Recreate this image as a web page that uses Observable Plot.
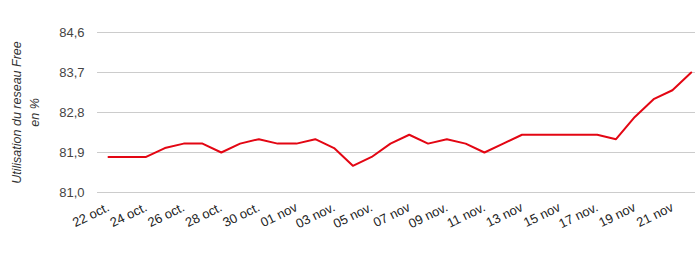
<!DOCTYPE html>
<html>
<head>
<meta charset="utf-8">
<script src="https://cdn.jsdelivr.net/npm/d3@7"></script>
<script src="https://cdn.jsdelivr.net/npm/@observablehq/plot@0.6"></script>
<style>
  html, body { margin: 0; padding: 0; background: #fff; }
  #chart svg { display: block; font-family: "Liberation Sans", Arial, sans-serif; }
</style>
</head>
<body>
<div id="chart"></div>
<script>
const days = ["22/10","23/10","24/10","25/10","26/10","27/10","28/10","29/10","30/10","31/10",
  "01/11","02/11","03/11","04/11","05/11","06/11","07/11","08/11","09/11","10/11","11/11",
  "12/11","13/11","14/11","15/11","16/11","17/11","18/11","19/11","20/11","21/11","22/11"];
const usage = [81.8,81.8,81.8,82.0,82.1,82.1,81.9,82.1,82.2,82.1,
  82.1,82.2,82.0,81.6,81.8,82.1,82.3,82.1,82.2,82.1,81.9,
  82.1,82.3,82.3,82.3,82.3,82.3,82.2,82.7,83.1,83.3,83.7];
const tickDays = ["22/10","24/10","26/10","28/10","30/10","01/11","03/11","05/11","07/11","09/11","11/11","13/11","15/11","17/11","19/11","21/11"];
const tickLabels = ["22 oct.","24 oct.","26 oct.","28 oct.","30 oct.","01 nov","03 nov.","05 nov.","07 nov","09 nov.","11 nov.","13 nov","15 nov","17 nov.","19 nov","21 nov"];
const yTicks = [81.0, 81.9, 82.8, 83.7, 84.6];
const yTitle = "Utilisation du reseau Free\nen %";

const data = days.map((d, i) => ({idx: i, day: d, value: usage[i]}));
const tickIdx = tickDays.map(d => days.indexOf(d));
const labelOf = new Map(tickIdx.map((k, i) => [k, tickLabels[i]]));

const chart = Plot.plot({
  width: 695,
  height: 262,
  marginLeft: 108,
  marginRight: 4,
  marginTop: 32,
  marginBottom: 70,
  style: {fontFamily: "'Liberation Sans', Arial, sans-serif", background: "#fff"},
  x: {type: "linear", domain: [0, days.length - 1], range: [108, 690.7]},
  y: {domain: [81.0, 84.6], range: [192, 32]},
  marks: [
    Plot.ruleY(yTicks, {stroke: "#cccccc", strokeWidth: 1, insetLeft: -11, insetRight: -4}),
    Plot.axisY({ticks: yTicks, tickSize: 0, tickPadding: 24, label: null,
      tickFormat: d => d.toFixed(1).replace(".", ","), fontSize: 13, fill: "#444"}),
    Plot.axisX({ticks: tickIdx, tickSize: 0, tickPadding: 14, tickRotate: -26, label: null,
      tickFormat: d => labelOf.get(d), fontSize: 13, fill: "#222"}),
    Plot.line(data, {x: "idx", y: "value", stroke: "#e30613", strokeWidth: 2}),
    Plot.text([yTitle], {frameAnchor: "left", textAnchor: "middle", rotate: -90, dx: -84, fontSize: 12.5,
      fontStyle: "italic", fill: "#333", lineHeight: 1.4})
  ]
});
document.getElementById("chart").append(chart);
</script>
</body>
</html>
